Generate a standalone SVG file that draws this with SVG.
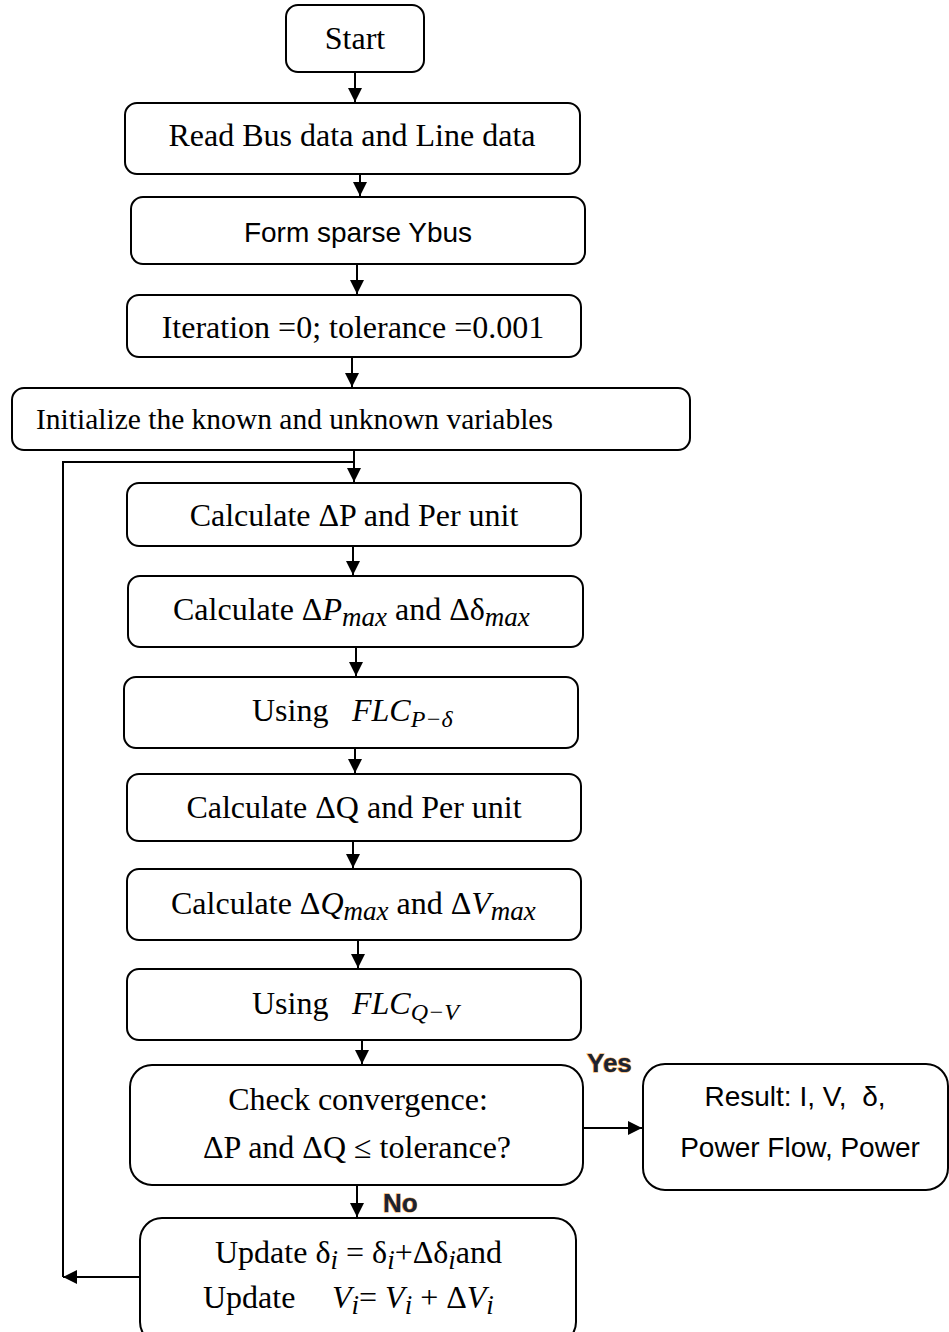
<svg xmlns="http://www.w3.org/2000/svg" width="949" height="1332" viewBox="0 0 949 1332">
<style>
.box{fill:#fff;stroke:#000;stroke-width:2}
.t{font-family:"Liberation Serif","Times New Roman",serif;font-size:32px;fill:#000}
.c{text-anchor:middle}
.s{font-family:"Liberation Sans",Arial,sans-serif;font-size:28px;fill:#000}
.m{font-style:italic}
.sub{font-size:24px;font-style:italic}
.sub2{font-size:27px;font-style:italic}
.ln{fill:none;stroke:#000;stroke-width:2}
.lbl{font-family:"Liberation Sans",Arial,sans-serif;font-weight:bold;font-size:26px;fill:#1a2233;stroke:#f0a040;stroke-width:1.2;paint-order:stroke}
</style>
<defs>
<marker id="ah2" viewBox="0 0 10 10" refX="10" refY="5" markerWidth="15" markerHeight="14" markerUnits="userSpaceOnUse" orient="auto">
<path d="M0,0 L10,5 L0,10 z" fill="#000"/>
</marker>
</defs>

<g id="connectors">
<line class="ln" x1="355" y1="72" x2="355" y2="102" marker-end="url(#ah2)"/>
<line class="ln" x1="360" y1="174" x2="360" y2="196" marker-end="url(#ah2)"/>
<line class="ln" x1="357" y1="264" x2="357" y2="294" marker-end="url(#ah2)"/>
<line class="ln" x1="352" y1="357" x2="352" y2="387" marker-end="url(#ah2)"/>
<line class="ln" x1="354" y1="450" x2="354" y2="482" marker-end="url(#ah2)"/>
<line class="ln" x1="353" y1="546" x2="353" y2="575" marker-end="url(#ah2)"/>
<line class="ln" x1="356" y1="647" x2="356" y2="676" marker-end="url(#ah2)"/>
<line class="ln" x1="355" y1="748" x2="355" y2="773" marker-end="url(#ah2)"/>
<line class="ln" x1="353" y1="841" x2="353" y2="868" marker-end="url(#ah2)"/>
<line class="ln" x1="358" y1="940" x2="358" y2="968" marker-end="url(#ah2)"/>
<line class="ln" x1="362" y1="1040" x2="362" y2="1064" marker-end="url(#ah2)"/>
<line class="ln" x1="357" y1="1185" x2="357" y2="1217" marker-end="url(#ah2)"/>
<line class="ln" x1="583" y1="1128" x2="642" y2="1128" marker-end="url(#ah2)"/>
<polyline class="ln" points="354,462 63,462 63,1277"/>
<line class="ln" x1="140" y1="1277" x2="63" y2="1277" marker-end="url(#ah2)"/>
<text class="lbl" x="587" y="1072">Yes</text>
<text class="lbl" x="383" y="1212">No</text>
</g>

<g id="start">
<rect class="box" x="286" y="5" width="138" height="67" rx="12"/>
<text class="t c" x="355" y="49">Start</text>
</g>
<g id="read">
<rect class="box" x="125" y="103" width="455" height="71" rx="12"/>
<text class="t c" x="352" y="146">Read Bus data and Line data</text>
</g>
<g id="ybus">
<rect class="box" x="131" y="197" width="454" height="67" rx="12"/>
<text class="s c" x="358" y="242">Form sparse Ybus</text>
</g>
<g id="iteration">
<rect class="box" x="127" y="295" width="454" height="62" rx="12"/>
<text class="t c" x="353" y="338">Iteration =0; tolerance =0.001</text>
</g>
<g id="init">
<rect class="box" x="12" y="388" width="678" height="62" rx="12"/>
<text class="t" x="36" y="429" style="font-size:29.5px">Initialize the known and unknown variables</text>
</g>
<g id="calcP">
<rect class="box" x="127" y="483" width="454" height="63" rx="12"/>
<text class="t c" x="354" y="526">Calculate ΔP and Per unit</text>
</g>
<g id="calcPmax">
<rect class="box" x="128" y="576" width="455" height="71" rx="12"/>
<text class="t" x="173" y="620">Calculate Δ<tspan class="m">P</tspan><tspan class="sub2" dy="6">max</tspan><tspan dy="-6"> and Δδ</tspan><tspan class="sub2" dy="6">max</tspan></text>
</g>
<g id="flcP">
<rect class="box" x="124" y="677" width="454" height="71" rx="12"/>
<text class="t" x="252" y="721">Using<tspan x="352" class="m">FLC</tspan><tspan class="sub" dy="6">P−δ</tspan></text>
</g>
<g id="calcQ">
<rect class="box" x="127" y="774" width="454" height="67" rx="12"/>
<text class="t c" x="354" y="818">Calculate ΔQ and Per unit</text>
</g>
<g id="calcQmax">
<rect class="box" x="127" y="869" width="454" height="71" rx="12"/>
<text class="t" x="171" y="914">Calculate Δ<tspan class="m">Q</tspan><tspan class="sub2" dy="6">max</tspan><tspan dy="-6"> and Δ</tspan><tspan class="m">V</tspan><tspan class="sub2" dy="6">max</tspan></text>
</g>
<g id="flcQ">
<rect class="box" x="127" y="969" width="454" height="71" rx="12"/>
<text class="t" x="252" y="1014">Using<tspan x="352" class="m">FLC</tspan><tspan class="sub" dy="6">Q−V</tspan></text>
</g>
<g id="check">
<rect class="box" x="130" y="1065" width="453" height="120" rx="22"/>
<text class="t c" x="358" y="1110">Check convergence:</text>
<text class="t c" x="357" y="1158">ΔP and ΔQ ≤ tolerance?</text>
</g>
<g id="result">
<rect class="box" x="643" y="1064" width="305" height="126" rx="22"/>
<text class="s c" x="795" y="1106" xml:space="preserve">Result: I, V,  δ,</text>
<text class="s c" x="800" y="1157">Power Flow, Power</text>
</g>
<g id="update">
<rect class="box" x="140" y="1218" width="436" height="126" rx="22"/>
<text class="t" x="215" y="1263">Update δ<tspan class="sub2" dy="6">i</tspan><tspan dy="-6"> = δ</tspan><tspan class="sub2" dy="6">i</tspan><tspan dy="-6">+Δδ</tspan><tspan class="sub2" dy="6">i</tspan><tspan dy="-6">and</tspan></text>
<text class="t" x="203" y="1308">Update<tspan x="332" class="m">V</tspan><tspan class="sub2" dy="6">i</tspan><tspan dy="-6">= </tspan><tspan class="m">V</tspan><tspan class="sub2" dy="6">i</tspan><tspan dy="-6"> + Δ</tspan><tspan class="m">V</tspan><tspan class="sub2" dy="6">i</tspan></text>
</g>
</svg>
